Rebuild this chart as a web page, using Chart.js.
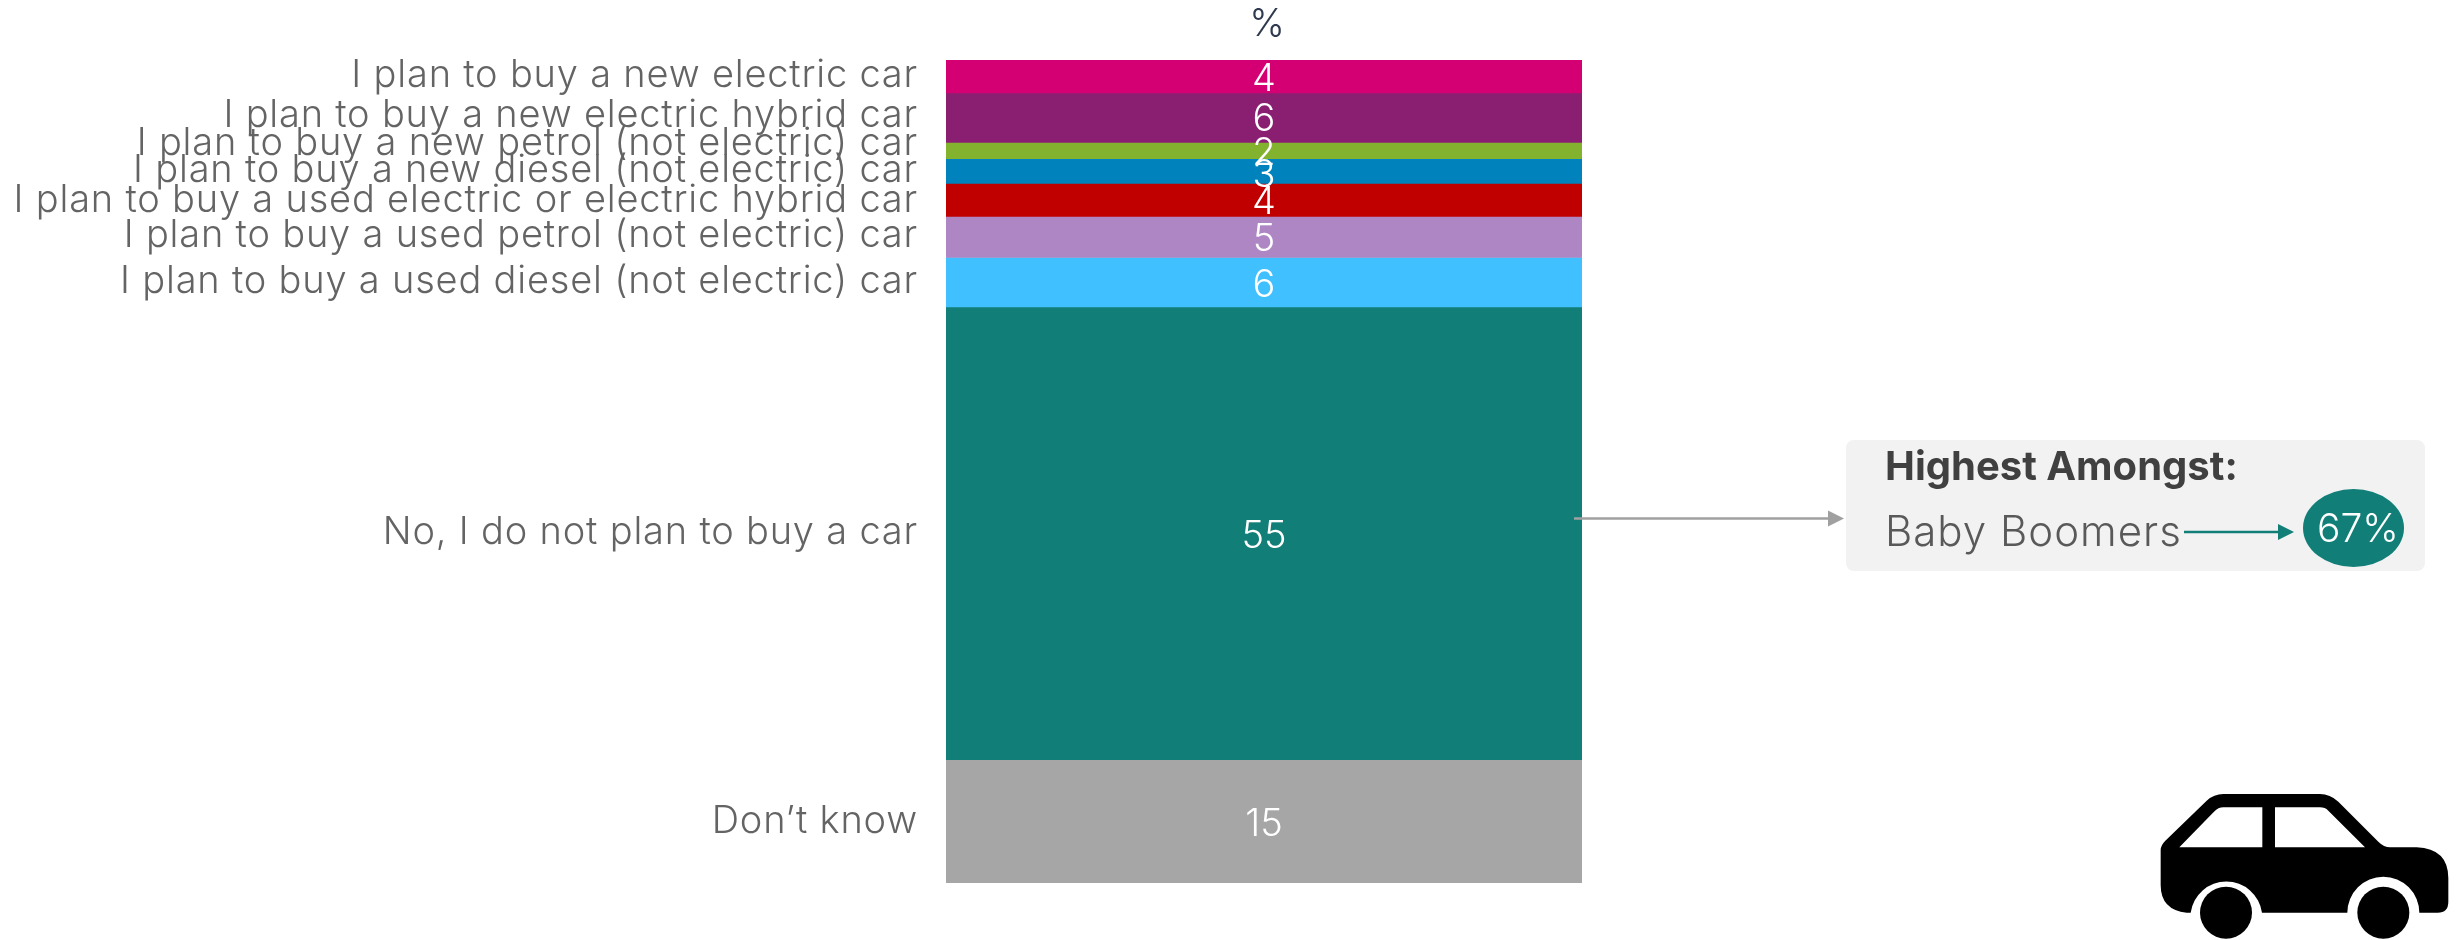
<!DOCTYPE html>
<html>
<head>
<meta charset="utf-8">
<title>Car purchase plans</title>
<script src="https://cdn.jsdelivr.net/npm/chart.js@4"></script>
<style>
  html, body { margin: 0; padding: 0; background: #fff; }
  canvas { display: block; }
</style>
</head>
<body>
<canvas id="chart" width="2461" height="940"></canvas>
<script>
const categories = ["%"];
const seriesNames = [
  "I plan to buy a new electric car",
  "I plan to buy a new electric hybrid car",
  "I plan to buy a new petrol (not electric) car",
  "I plan to buy a new diesel (not electric) car",
  "I plan to buy a used electric or electric hybrid car",
  "I plan to buy a used petrol (not electric) car",
  "I plan to buy a used diesel (not electric) car",
  "No, I do not plan to buy a car",
  "Don’t know",
];
const seriesValues = [4, 6, 2, 3, 4, 5, 6, 55, 15];
const seriesColors = [
  "#d40073", "#8a1f72", "#82b22e", "#0082bc", "#c00000",
  "#ae86c4", "#40c0ff", "#117e78", "#a6a6a6",
];
const calloutTitle = "Highest Amongst:";
const calloutGroup = "Baby Boomers";
const calloutValue = "67%";

// the source labels sit a little off the segment centres
const labelNudge = [-2.5, -4.5, -9, -3, -1.5, -3.5, -2.5, -2.5, -1.5];
const valueNudge = [1, 0, 1, 2, 1, 1, 1, 1, 1];

const FONT = "Inter, 'Open Sans', sans-serif";
const CAP = 13.5; // half of the cap height

const text = (ctx, str, x, y, font, color, align = "left", spacing = "0px") => {
  ctx.font = font;
  ctx.fillStyle = color;
  ctx.textAlign = align;
  ctx.textBaseline = "alphabetic";
  ctx.letterSpacing = spacing;
  ctx.fillText(str, x, y);
  ctx.letterSpacing = "0px";
};

const arrow = (ctx, x1, x2, y, head, color) => {
  ctx.strokeStyle = color;
  ctx.lineWidth = 2.5;
  ctx.beginPath();
  ctx.moveTo(x1, y);
  ctx.lineTo(x2 - head, y);
  ctx.stroke();
  ctx.fillStyle = color;
  ctx.beginPath();
  ctx.moveTo(x2, y);
  ctx.lineTo(x2 - head, y - 8);
  ctx.lineTo(x2 - head, y + 8);
  ctx.closePath();
  ctx.fill();
};

const drawCar = (ctx) => {
  ctx.save();
  ctx.translate(2140, 770);
  ctx.scale(1 / 3, 1 / 3);
  ctx.fillStyle = "#000";
  const body = new Path2D(
    "M62 240 Q62 226 76 212 L200 92 Q222 72 250 72 L540 72 Q570 72 595 95 L715 215 Q732 232 750 232 L830 232 " +
    "Q925 236 925 325 L925 395 Q925 428 893 428 L838 428 A108 108 0 0 0 622 428 L366 428 A108 108 0 0 0 152 428 " +
    "L140 428 Q62 420 62 345 Z " +
    "M118 232 L222 125 Q235 112 250 112 L367 112 L367 232 Z " +
    "M405 112 L540 112 Q555 112 565 122 L675 232 L405 232 Z"
  );
  ctx.fill(body, "evenodd");
  [258, 730].forEach((cx) => {
    ctx.beginPath();
    ctx.arc(cx, 428, 78, 0, Math.PI * 2);
    ctx.fill();
  });
  ctx.restore();
};

const annotations = {
  id: "annotations",
  afterDatasetsDraw(chart) {
    const { ctx } = chart;
    const labelFont = `300 38px ${FONT}`;
    ctx.save();

    seriesNames.forEach((name, i) => {
      const bar = chart.getDatasetMeta(i).data[0].getCenterPoint();
      text(ctx, name, 918, bar.y + labelNudge[i] + CAP, labelFont, "#646464", "right", "0.8px");
    });
    seriesValues.forEach((value, i) => {
      const bar = chart.getDatasetMeta(i).data[0].getCenterPoint();
      text(ctx, String(value), bar.x, bar.y + valueNudge[i] + CAP, labelFont, "#fff", "center");
    });
    text(ctx, categories[0], 1267, 36, labelFont, "#2f3a4f", "center");

    arrow(ctx, 1574, 1844, 518.5, 16, "#a0a0a0");
    ctx.fillStyle = "#f2f2f2";
    ctx.beginPath();
    ctx.roundRect(1846, 440, 579, 131, 8);
    ctx.fill();
    text(ctx, calloutTitle, 1885, 480, `700 40px ${FONT}`, "#404040");
    text(ctx, calloutGroup, 1885, 546, `300 42px ${FONT}`, "#595959", "left", "1px");
    arrow(ctx, 2184, 2294, 532, 16, "#117e78");
    ctx.fillStyle = "#117e78";
    ctx.beginPath();
    ctx.ellipse(2353.5, 528, 50.5, 39, 0, 0, Math.PI * 2);
    ctx.fill();
    text(ctx, calloutValue, 2358, 542, `300 39px ${FONT}`, "#fff", "center");

    drawCar(ctx);
    ctx.restore();
  },
};

const ctx = document.getElementById("chart").getContext("2d");
new Chart(ctx, {
  type: "bar",
  data: {
    labels: categories,
    datasets: seriesNames.map((name, i) => ({
      label: name,
      data: [seriesValues[i]],
      backgroundColor: seriesColors[i],
      borderWidth: 0,
      barPercentage: 1,
      categoryPercentage: 1,
    })),
  },
  options: {
    responsive: false,
    animation: false,
    layout: { padding: { left: 946, right: 879, top: 60, bottom: 57 } },
    plugins: {
      legend: { display: false },
      title: { display: false },
      tooltip: { enabled: false },
    },
    scales: {
      x: { stacked: true, display: false },
      y: { stacked: true, display: false, reverse: true, min: 0, max: 100 },
    },
  },
  plugins: [annotations],
});
</script>
</body>
</html>
